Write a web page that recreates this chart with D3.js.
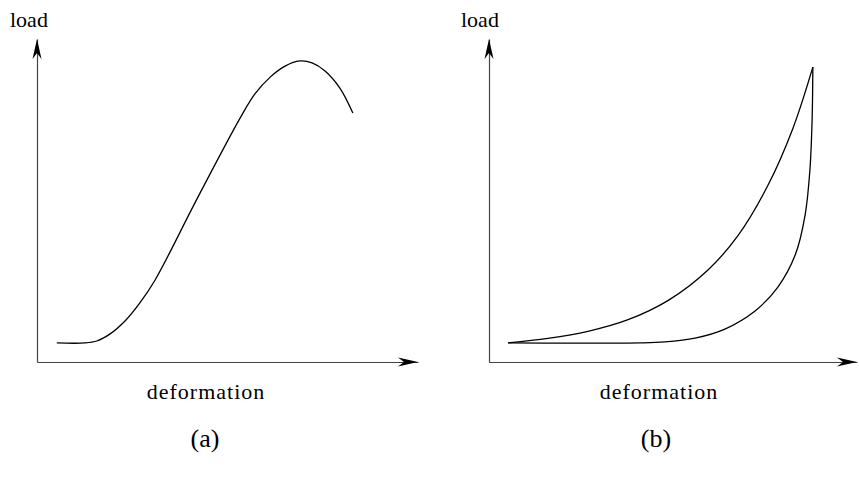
<!DOCTYPE html>
<html><head><meta charset="utf-8">
<script src="https://cdn.jsdelivr.net/npm/d3@7"></script>
<style>body{margin:0;background:#fff}svg{display:block}text{font-family:"Liberation Serif","DejaVu Serif",serif;fill:#000}</style>
</head><body>
<script>
// Panel (a): load vs deformation (units 0-100)
const curveA_x = [5.2,12.6,15.7,19.2,23.1,27.0,31.0,42.0,53.3,57.2,61.2,65.1,69.0,72.2,75.6,79.5,82.9];
const curveA_y = [5.9,5.9,6.5,8.7,12.7,18.3,25.4,50.5,75.5,83.0,88.2,91.6,93.2,92.6,90.1,84.8,77.1];
// Panel (b): loading (upper) and unloading (lower)
const upperB_x = [5.2,16.0,26.9,37.8,48.6,59.5,67.7,75.8,82.6,88.0];
const upperB_y = [5.9,7.3,9.5,13.1,19.0,28.5,39.2,54.7,72.4,91.3];
const lowerB_x = [5.2,41.0,47.8,56.0,64.1,72.3,78.5,83.2,85.9,87.2,87.8,88.0];
const lowerB_y = [5.9,5.9,6.2,7.4,10.2,15.8,23.2,33.1,45.5,59.4,74.9,91.3];
const xLabel = "deformation";
const yLabel = "load";
const panelLabels = ["(a)","(b)"];

const W=859,H=477;
const svg=d3.select("body").append("svg").attr("width",W).attr("height",H);

const panels=[
  {x0:37,x1:418,ytop:39,ybase:362,series:[[curveA_x,curveA_y]],label:panelLabels[0],loadX:10,defX:206,capX:205},
  {x0:489,x1:857,ytop:39,ybase:362,series:[[upperB_x,upperB_y],[lowerB_x,lowerB_y]],label:panelLabels[1],loadX:461,defX:659,capX:656}
];

function arrow(g,x,y,dir){
  const L=20,hw=4.5,n=14;
  let pts;
  if(dir==="up") pts=[[x,y],[x-hw,y+L],[x,y+n],[x+hw,y+L]];
  else pts=[[x,y],[x-L,y-hw],[x-n,y],[x-L,y+hw]];
  g.append("path").attr("d","M"+pts.map(p=>p.join(",")).join("L")+"Z").attr("fill","#000");
}

panels.forEach(p=>{
  const g=svg.append("g");
  const x=d3.scaleLinear().domain([0,100]).range([p.x0,p.x1]);
  const y=d3.scaleLinear().domain([0,100]).range([p.ybase,p.ytop]);
  g.append("g").attr("transform",`translate(0,${p.ybase})`)
    .call(d3.axisBottom(x).tickValues([]).tickSizeOuter(0));
  g.append("g").attr("transform",`translate(${p.x0},0)`)
    .call(d3.axisLeft(y).tickValues([]).tickSizeOuter(0));
  g.selectAll(".domain").attr("stroke","#444").attr("stroke-width",1.2);
  arrow(g,p.x0,p.ytop,"up");
  arrow(g,p.x1,p.ybase,"right");
  const line=d3.line().x(d=>x(d[0])).y(d=>y(d[1])).curve(d3.curveCatmullRom.alpha(0.5));
  p.series.forEach(([xs,ys])=>{
    g.append("path").attr("d",line(xs.map((v,i)=>[v,ys[i]])))
      .attr("fill","none").attr("stroke","#000").attr("stroke-width",1.3);
  });
  g.append("text").attr("x",p.loadX).attr("y",27).attr("font-size",22).text(yLabel);
  g.append("text").attr("x",p.defX).attr("y",399).attr("font-size",22).attr("letter-spacing",1)
    .attr("text-anchor","middle").text(xLabel);
  g.append("text").attr("x",p.capX).attr("y",447).attr("font-size",26).attr("text-anchor","middle").text(p.label);
});
</script>
</body></html>
